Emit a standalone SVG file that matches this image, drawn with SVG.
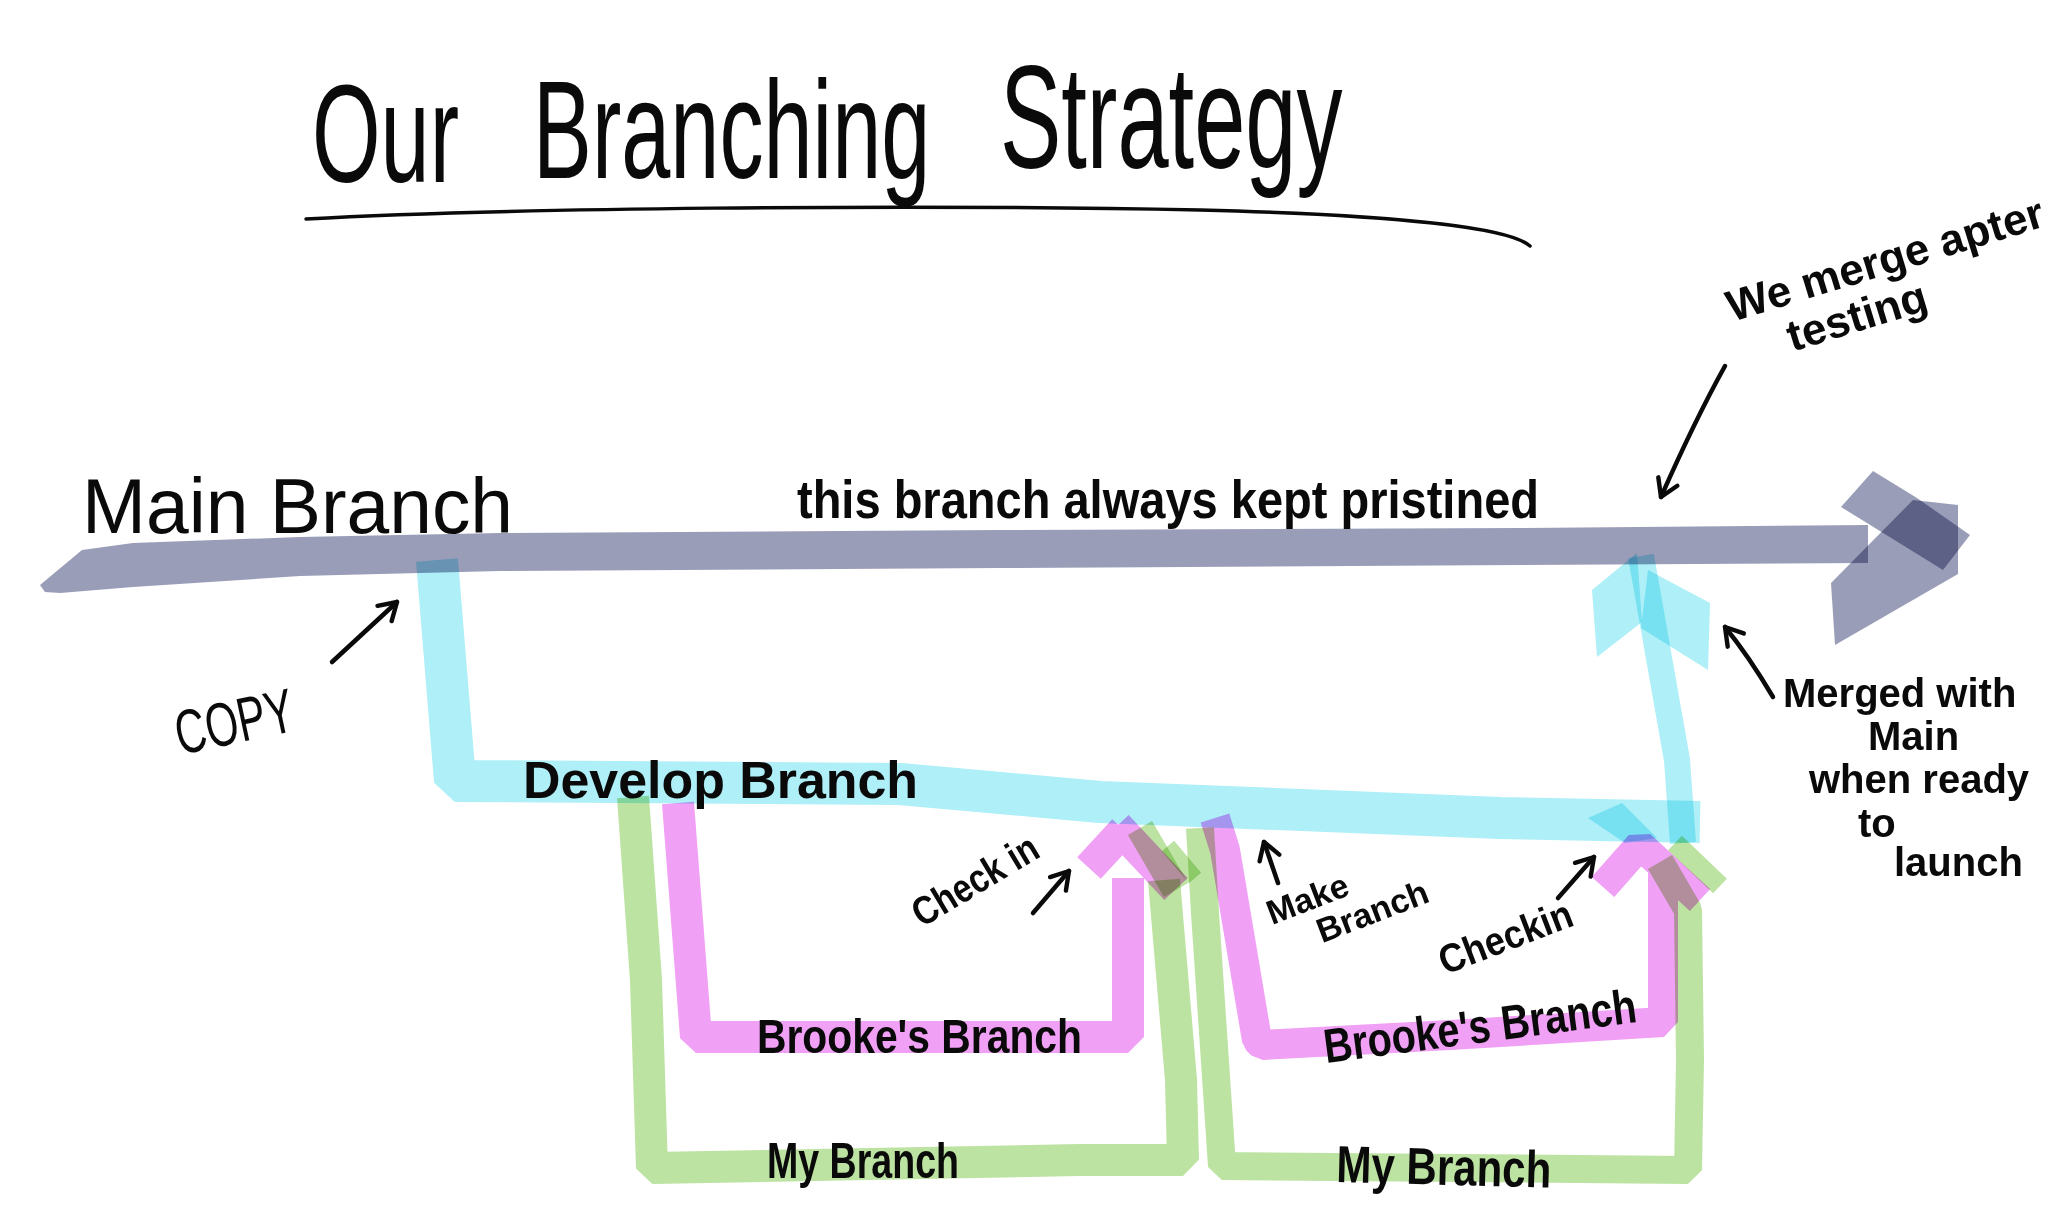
<svg xmlns="http://www.w3.org/2000/svg" width="2062" height="1209" viewBox="0 0 2062 1209">
<style>
.m{mix-blend-mode:multiply}
.main{fill:#9a9db8}
.cy{fill:none;stroke:#aeeff8;stroke-linejoin:bevel}
.cyf{fill:#aeeff8}
.pk{fill:none;stroke:#f0a0f5;stroke-linejoin:bevel}
.gr{fill:none;stroke:#bde3a2;stroke-linejoin:bevel}
.t{font-family:"Liberation Sans",Arial,sans-serif;fill:#0a0a0a}
.b{font-weight:bold}
.arr{fill:none;stroke:#0a0a0a;stroke-width:4.5;stroke-linecap:round}
</style>
<defs>
<marker id="ah" viewBox="0 0 20 20" refX="16" refY="10" markerWidth="26" markerHeight="26" markerUnits="userSpaceOnUse" orient="auto">
<path d="M3,2 L16,10 L3,18" fill="none" stroke="#0a0a0a" stroke-width="3.4" stroke-linecap="round" stroke-linejoin="round"/>
</marker>
</defs>
<rect width="2062" height="1209" fill="#fff"/>

<g id="title">
<text class="t" transform="translate(312,0) scale(0.63,1)" font-size="140"><tspan x="0" y="182">Our </tspan><tspan x="351" y="178">Branching </tspan><tspan x="1092" y="168" font-size="146">Strategy</tspan></text>
<path d="M306,219 C500,208 900,204 1200,210 C1400,215 1510,228 1530,246" fill="none" stroke="#0a0a0a" stroke-width="3.5" stroke-linecap="round"/>
</g>

<g id="connectors">
<g id="main-branch-bar">
<polygon class="main m" points="82,550 133,543 300,537 500,533 1000,530 1520,528 1868,525 1868,563 1520,565 1000,568 500,571 300,576 133,587 60,593 45,592 40,585"/>
<polygon class="main m" points="1841,507 1873,471 1917,498 1970,535 1943,570 1867,523"/>
<polygon class="main m" points="1831,583 1913,500 1958,505 1958,574 1835,645"/>
</g>
<g id="develop-branch">
<path class="cy m" stroke-width="42" d="M437,560 L455,781 L900,784 L1100,802 L1500,818 L1700,822"/>
<polygon class="cyf m" points="1588,818 1622,803 1657,838 1625,843"/>
<path class="cy m" stroke-width="26" d="M1683,843 L1677,760 L1641,556"/>
<polygon class="cyf m" points="1592,590 1637,553 1642,622 1597,657"/>
<polygon class="cyf m" points="1648,570 1710,603 1708,670 1641,628"/>
</g>
<g id="brooke-branch-1">
<path class="pk m" stroke-width="32" d="M678,803 L696,1037 L1128,1037 L1128,878 M1117,826 L1176,889 M1089,868 L1124,830"/>
</g>
<g id="my-branch-1">
<path class="gr m" stroke-width="32" d="M633,797 L646,980 L652,1168 L1080,1160 L1183,1160 L1181,1080 L1164,880"/>
<path class="gr m" stroke-width="28" d="M1140,828 L1176,890"/>
<path class="gr m" stroke-width="16" d="M1168,846 L1195,878"/>
</g>
<g id="brooke-branch-2">
<path class="pk m" stroke-width="30" d="M1215,818 L1225,850 L1257,1040 L1262,1045 L1450,1035 L1663,1022 L1663,868 M1603,887 L1640,845 L1700,900"/>
</g>
<g id="my-branch-2">
<path class="gr m" stroke-width="28" d="M1200,828 L1205,913 L1222,1166 L1688,1170 L1690,1060 L1688,910 L1660,862"/>
<path class="gr m" stroke-width="20" d="M1675,843 L1720,886"/>
</g>
<g id="pointer-arrows">
<path class="arr" marker-end="url(#ah)" d="M332,662 L397,602"/>
<path class="arr" marker-end="url(#ah)" d="M1033,913 L1069,871"/>
<path class="arr" marker-end="url(#ah)" d="M1278,883 L1264,842"/>
<path class="arr" marker-end="url(#ah)" d="M1558,898 L1594,857"/>
<path class="arr" marker-end="url(#ah)" d="M1725,366 Q1695,420 1661,497"/>
<path class="arr" marker-end="url(#ah)" d="M1773,697 Q1748,655 1725,627"/>
</g>
</g>

<g id="label-main">
<text class="t" x="82" y="533" font-size="78" textLength="431" lengthAdjust="spacingAndGlyphs">Main Branch</text>
</g>
<g id="label-pristine">
<text class="t b" x="797" y="518" font-size="54" textLength="742" lengthAdjust="spacingAndGlyphs">this branch always kept pristined</text>
</g>
<g id="label-copy">
<text class="t" transform="translate(180,755) rotate(-12)" font-size="62" textLength="120" lengthAdjust="spacingAndGlyphs">COPY</text>
</g>
<g id="label-develop">
<text class="t b" x="523" y="798" font-size="52" textLength="395" lengthAdjust="spacingAndGlyphs">Develop Branch</text>
</g>
<g id="label-brooke-1">
<text class="t b" x="757" y="1053" font-size="48" textLength="325" lengthAdjust="spacingAndGlyphs">Brooke's Branch</text>
</g>
<g id="label-my-1">
<text class="t b" x="767" y="1178" font-size="50" textLength="192" lengthAdjust="spacingAndGlyphs">My Branch</text>
</g>
<g id="label-checkin-1">
<text class="t b" transform="translate(922,928) rotate(-31)" font-size="40" textLength="140" lengthAdjust="spacingAndGlyphs">Check in</text>
</g>
<g id="label-make-branch">
<text class="t b" transform="translate(1272,925) rotate(-21)" font-size="34"><tspan x="0" y="0">Make</tspan><tspan x="40" y="35">Branch</tspan></text>
</g>
<g id="label-checkin-2">
<text class="t b" transform="translate(1445,975) rotate(-21)" font-size="40" textLength="140" lengthAdjust="spacingAndGlyphs">Checkin</text>
</g>
<g id="label-brooke-2">
<text class="t b" transform="translate(1326,1063) rotate(-7.5)" font-size="48" textLength="315" lengthAdjust="spacingAndGlyphs">Brooke's Branch</text>
</g>
<g id="label-my-2">
<text class="t b" transform="translate(1336,1182) rotate(1.5)" font-size="52" textLength="215" lengthAdjust="spacingAndGlyphs">My Branch</text>
</g>
<g id="label-merge-after">
<text class="t b" transform="translate(1732,322) rotate(-17)" font-size="44"><tspan x="0" y="0">We merge apter</tspan><tspan x="49" y="46">testing</tspan></text>
</g>
<g id="label-merged">
<text class="t b" font-size="40"><tspan x="1783" y="707">Merged with</tspan><tspan x="1868" y="750">Main</tspan><tspan x="1809" y="793">when ready</tspan><tspan x="1858" y="837">to</tspan><tspan x="1894" y="876">launch</tspan></text>
</g>
</svg>
